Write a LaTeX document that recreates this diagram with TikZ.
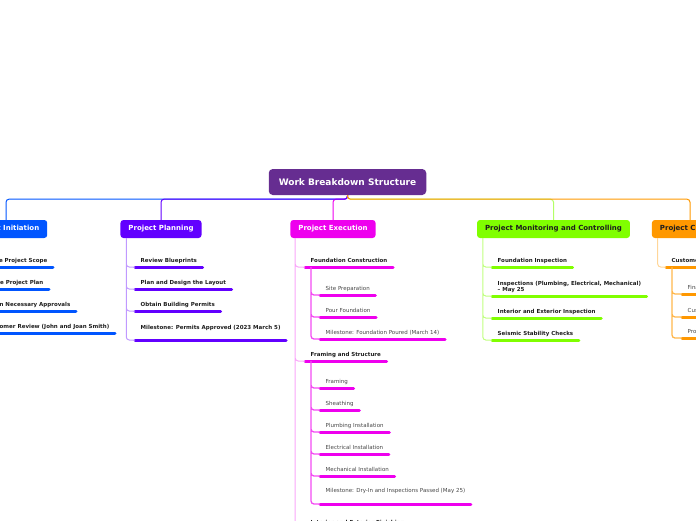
\documentclass[tikz,border=0pt]{standalone}
\usepackage{fontspec}
\setmainfont{DejaVu Sans}
\definecolor{wbsplum}{RGB}{102,45,145}
\definecolor{wbsblue}{RGB}{0,85,255}
\definecolor{wbsviolet}{RGB}{98,0,255}
\definecolor{wbsmagenta}{RGB}{238,0,238}
\definecolor{wbsgreen}{RGB}{128,255,0}
\definecolor{wbsorange}{RGB}{255,152,0}
\definecolor{wbsink}{RGB}{30,30,30}
\definecolor{wbsgrey}{RGB}{70,70,70}

\begin{document}
\begin{tikzpicture}[x=1pt,y=-1pt,
  root/.style={fill=wbsplum,rounded corners=4pt,minimum height=26pt,inner xsep=10pt,
    text=white,font=\fontsize{9}{10}\selectfont\bfseries},
  phase/.style={fill=#1,rounded corners=3pt,minimum height=18pt,inner xsep=8pt,
    font=\fontsize{7}{8}\selectfont\bfseries},
  item/.style={anchor=south west,inner xsep=5.5pt,inner ysep=3.5pt,text depth=1pt,
    text=wbsink,font=\fontsize{5.5}{6.2}\selectfont\bfseries,align=left,
    append after command={(\tikzlastnode.south west) edge[draw=#1,line width=3pt,line cap=round]
      (\tikzlastnode.south east)}},
  task/.style={item=#1,text=wbsgrey,font=\fontsize{5.5}{6.2}\selectfont},
  link/.style={line width=1pt,rounded corners=3pt},
  sublink/.style={line width=1.3pt,rounded corners=3pt}]
  \useasboundingbox (0,0) rectangle (696,520);
  \clip (0,0) rectangle (696,520);

  % Root
  \node[root] (wbs) at (347.5,182) {Work Breakdown Structure};

  % Phases
  \node[phase=wbsblue,text=white] (init) at (6,229) {Project Initiation};
  \node[phase=wbsviolet,text=white] (plan) at (161,229) {Project Planning};
  \node[phase=wbsmagenta,text=white] (exec) at (333,229) {Project Execution};
  \node[phase=wbsgreen,text=wbsink] (moni) at (553.5,229) {Project Monitoring and Controlling};
  \node[phase=wbsorange,text=wbsink] (clos) at (690,229) {Project Closure};

  % Root links
  \draw[link,wbsblue] (wbs.south) -- ++(0,4) -| (init.north);
  \draw[link,wbsgreen!60] (wbs.south) -- ++(0,4) -| (moni.north);
  \draw[link,wbsmagenta] (wbs.south) -- ++(0,4) -| (exec.north);
  \draw[link,wbsviolet] (wbs.south) -- ++(0,4) -| (plan.north);
  \draw[link,wbsorange] (wbs.south) -- ++(0,4) -| (clos.north);

  % Initiation
  \node[item=wbsblue,anchor=south east] (in1) at (53,267) {Define Project Scope};
  \node[item=wbsblue,anchor=south east] (in2) at (49,289) {Create Project Plan};
  \node[item=wbsblue,anchor=south east] (in3) at (76,311) {Obtain Necessary Approvals};
  \node[item=wbsblue,anchor=south east] (in4) at (115,333) {Customer Review (John and Joan Smith)};
  \draw[link,wbsblue!45] ([xshift=6pt]init.south west) |- (in1.south west)
    ([xshift=6pt]init.south west) |- (in2.south west)
    ([xshift=6pt]init.south west) |- (in3.south west)
    ([xshift=6pt]init.south west) |- (in4.south west);

  % Planning
  \node[item=wbsviolet] (pl1) at (135,267) {Review Blueprints};
  \node[item=wbsviolet] (pl2) at (135,289) {Plan and Design the Layout};
  \node[item=wbsviolet] (pl3) at (135,311) {Obtain Building Permits};
  \node[item=wbsviolet,text depth=7pt] (pl4) at (135,340) {Milestone: Permits Approved (2023 March 5)};
  \draw[link,wbsviolet!40] ([xshift=6pt]plan.south west) |- (pl1.south west)
    ([xshift=6pt]plan.south west) |- (pl2.south west)
    ([xshift=6pt]plan.south west) |- (pl3.south west)
    ([xshift=6pt]plan.south west) |- (pl4.south west);

  % Execution
  \node[item=wbsmagenta] (ex1) at (305,267) {Foundation Construction};
  \node[task=wbsmagenta] (ex11) at (320,295) {Site Preparation};
  \node[task=wbsmagenta] (ex12) at (320,317) {Pour Foundation};
  \node[task=wbsmagenta] (ex13) at (320,339) {Milestone: Foundation Poured (March 14)};
  \node[item=wbsmagenta] (ex2) at (305,361) {Framing and Structure};
  \node[task=wbsmagenta] (ex21) at (320,388) {Framing};
  \node[task=wbsmagenta] (ex22) at (320,410) {Sheathing};
  \node[task=wbsmagenta] (ex23) at (320,432) {Plumbing Installation};
  \node[task=wbsmagenta] (ex24) at (320,454) {Electrical Installation};
  \node[task=wbsmagenta] (ex25) at (320,476) {Mechanical Installation};
  \node[task=wbsmagenta,text depth=7.5pt] (ex26) at (320,504) {Milestone: Dry-In and Inspections Passed (May 25)};
  \node[item=wbsmagenta] (ex3) at (305,529) {Interior and Exterior Finishing};
  \draw[link,wbsmagenta!35] ([xshift=5pt]exec.south west) |- (ex1.south west)
    ([xshift=5pt]exec.south west) |- (ex2.south west)
    ([xshift=5pt]exec.south west) |- (ex3.south west);
  \draw[sublink,wbsmagenta!70] ([xshift=6pt]ex1.south west) |- (ex11.south west)
    ([xshift=6pt]ex1.south west) |- (ex12.south west)
    ([xshift=6pt]ex1.south west) |- (ex13.south west);
  \draw[sublink,wbsmagenta!70] ([xshift=6pt]ex2.south west) |- (ex21.south west)
    ([xshift=6pt]ex2.south west) |- (ex22.south west)
    ([xshift=6pt]ex2.south west) |- (ex23.south west)
    ([xshift=6pt]ex2.south west) |- (ex24.south west)
    ([xshift=6pt]ex2.south west) |- (ex25.south west)
    ([xshift=6pt]ex2.south west) |- (ex26.south west);

  % Monitoring and controlling
  \node[item=wbsgreen] (mo1) at (492,267) {Foundation Inspection};
  \node[item=wbsgreen] (mo2) at (492,296) {Inspections (Plumbing, Electrical, Mechanical)\\– May 25};
  \node[item=wbsgreen] (mo3) at (492,318) {Interior and Exterior Inspection};
  \node[item=wbsgreen] (mo4) at (492,340) {Seismic Stability Checks};
  \draw[link,wbsgreen!50] ([xshift=6pt]moni.south west) |- (mo1.south west)
    ([xshift=6pt]moni.south west) |- (mo2.south west)
    ([xshift=6pt]moni.south west) |- (mo3.south west)
    ([xshift=6pt]moni.south west) |- (mo4.south west);

  % Closure
  \node[item=wbsorange] (cl1) at (666,267) {Customer Handover};
  \node[task=wbsorange] (cl11) at (682,294) {Final Walkthrough};
  \node[task=wbsorange] (cl12) at (682,317) {Customer Acceptance};
  \node[task=wbsorange] (cl13) at (682,338) {Project Documentation};
  \draw[link,wbsorange!40] ([xshift=6pt]clos.south west) |- (cl1.south west);
  \draw[sublink,wbsorange!70] ([xshift=6pt]cl1.south west) |- (cl11.south west)
    ([xshift=6pt]cl1.south west) |- (cl12.south west)
    ([xshift=6pt]cl1.south west) |- (cl13.south west);
\end{tikzpicture}
\end{document}
